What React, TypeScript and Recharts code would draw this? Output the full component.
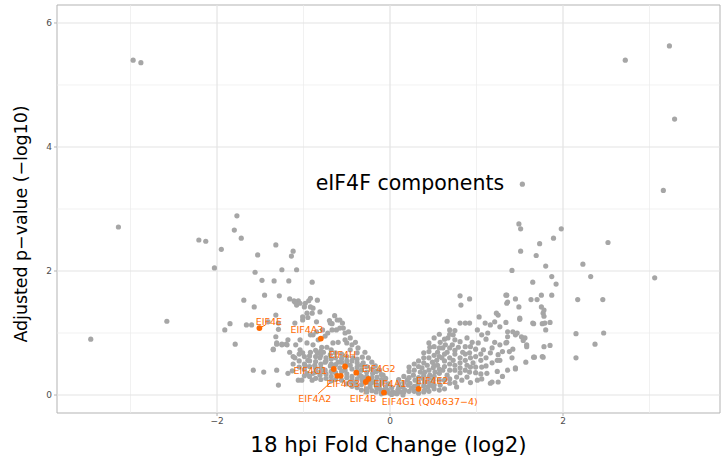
import React from "react";
import {
  ScatterChart,
  Scatter,
  XAxis,
  YAxis,
  ReferenceLine,
  ReferenceArea,
} from "recharts";

// background proteins, grey points: [log2 fold change, -log10 adj p]
const leftSparse: [number, number][] = [
  [-3.46, 0.9], [-3.14, 2.71], [-2.58, 1.19], [-2.97, 5.4], [-2.88, 5.36],
  [-2.21, 2.5], [-2.13, 2.48], [-2.03, 2.05], [-1.95, 2.35], [-1.8, 2.66],
  [-1.77, 2.89], [-1.72, 2.53], [-1.53, 2.26], [-1.32, 2.42], [-1.14, 2.24],
  [-1.12, 2.32], [-1.56, 1.98], [-1.25, 2.02], [-1.08, 2.02], [-1.48, 1.85],
  [-1.34, 1.84], [-1.17, 1.84], [-0.9, 1.82], [-1.69, 1.53], [-1.45, 1.61],
  [-1.28, 1.6], [-1.16, 1.55], [-1.11, 1.52], [-1.06, 1.52], [-1.08, 1.45],
  [-0.94, 1.52], [-0.92, 1.56], [-0.84, 1.53], [-1.57, 1.42], [-0.99, 1.42],
  [-0.89, 1.4], [-0.81, 1.34], [-1.32, 1.29], [-1.01, 1.21], [-1.85, 1.15],
  [-1.66, 1.13], [-1.6, 1.13], [-1.91, 1.05], [-1.41, 1.18], [-1.29, 1.16],
  [-1.29, 1.06], [-1.1, 1.16], [-1.32, 0.94], [-1.79, 0.82], [-1.35, 0.74],
  [-1.31, 0.82], [-1.25, 0.82], [-1.2, 0.82], [-1.18, 0.89], [-1.58, 0.4],
  [-1.46, 0.37], [-1.29, 0.16], [-1.06, 0.24], [-1.13, 0.39], [-0.98, 0.47],
];

const leftBand: [number, number][] = [
  [-0.61, 1.21], [-0.58, 1.21], [-0.67, 1.15], [-0.62, 1.05], [-0.54, 1.08],
  [-0.52, 1.0], [-1.1, 1.5], [-1.04, 1.48], [-0.98, 1.48], [-0.92, 1.42],
  [-0.96, 1.32], [-0.9, 1.32], [-1.01, 1.26], [-0.69, 1.16], [-0.67, 1.05],
  [-0.58, 1.08], [-0.92, 0.97], [-0.89, 0.97], [-1.31, 0.84], [-1.25, 0.81],
  [-1.19, 0.81], [-1.35, 0.73], [-0.96, 0.84], [-0.89, 0.81], [-0.79, 0.77],
  [-0.73, 0.77], [-0.66, 0.84], [-0.6, 0.85], [-0.5, 0.84], [-0.46, 0.73],
  [-1.04, 0.73], [-1.01, 0.68], [-0.92, 0.69], [-0.84, 0.68], [-0.77, 0.69],
  [-0.69, 0.65], [-0.38, 0.68], [-0.32, 0.61], [-0.43, 0.6], [-0.81, 0.6],
  [-0.75, 0.53], [-0.6, 0.53], [-0.46, 0.48], [-0.38, 0.45], [-0.31, 0.52],
  [-0.27, 0.37], [-0.2, 0.35], [-0.15, 0.29], [-1.31, 0.4], [-1.18, 0.35],
  [-0.96, 0.35], [-0.89, 0.35], [-0.81, 0.32], [-1.02, 0.24], [-0.9, 0.24],
  [-0.46, 0.21], [-0.4, 0.19], [-0.23, 0.13], [-0.15, 0.11], [-0.03, 0.08],
  [0.03, 0.05], [0.15, 0.0], [-0.52, 0.89], [-0.44, 0.81], [-0.37, 0.76],
  [-0.29, 0.69], [-0.25, 0.6], [-0.21, 0.53], [-0.17, 0.47], [-0.12, 0.4],
  [-0.08, 0.32], [-0.06, 0.24], [-0.02, 0.18], [-0.12, 0.16], [-0.17, 0.21],
  [-0.29, 0.27], [-0.35, 0.32], [-0.52, 0.4], [-0.58, 0.44], [-0.69, 0.47],
  [-0.75, 0.4], [-0.87, 0.48], [-0.95, 0.56], [-1.1, 0.6], [-1.16, 0.69],
  [-1.09, 0.81], [-1.04, 0.89], [-0.83, 0.89], [-0.75, 0.95], [-0.46, 0.92],
  [-0.4, 0.85], [0.06, 0.03], [0.09, 0.08], [0.0, 0.03], [-0.07, 0.08],
  [-0.12, 0.1], [-0.23, 0.18], [-0.32, 0.24],
];

// the solid part of the left arm
const leftCore: [number, number][] = [
  [-1.12, 0.62], [-1.12, 0.5], [-1.05, 0.66], [-1.05, 0.55], [-1.05, 0.45],
  [-0.99, 0.62], [-0.99, 0.5], [-0.99, 0.41], [-0.99, 0.31], [-0.93, 0.63],
  [-0.93, 0.55], [-0.93, 0.46], [-0.93, 0.3], [-0.86, 0.72], [-0.86, 0.62],
  [-0.86, 0.54], [-0.86, 0.43], [-0.86, 0.37], [-0.86, 0.27], [-0.8, 0.71],
  [-0.8, 0.64], [-0.8, 0.5], [-0.8, 0.44], [-0.8, 0.37], [-0.8, 0.25],
  [-0.74, 0.6], [-0.74, 0.55], [-0.74, 0.34], [-0.74, 0.27], [-0.68, 0.73],
  [-0.68, 0.58], [-0.68, 0.5], [-0.68, 0.38], [-0.68, 0.3], [-0.68, 0.23],
  [-0.63, 0.68], [-0.63, 0.6], [-0.63, 0.49], [-0.63, 0.36], [-0.63, 0.25],
  [-0.56, 0.66], [-0.56, 0.59], [-0.56, 0.53], [-0.56, 0.38], [-0.56, 0.24],
  [-0.5, 0.62], [-0.5, 0.55], [-0.5, 0.5], [-0.5, 0.34], [-0.5, 0.28],
  [-0.5, 0.18], [-0.44, 0.55], [-0.44, 0.42], [-0.44, 0.3], [-0.44, 0.24],
  [-0.44, 0.14], [-0.38, 0.58], [-0.38, 0.52], [-0.38, 0.38], [-0.38, 0.26],
  [-0.38, 0.12], [-0.33, 0.48], [-0.33, 0.4], [-0.33, 0.3], [-0.33, 0.17],
  [-0.33, 0.08], [-0.27, 0.46], [-0.27, 0.3], [-0.27, 0.22], [-0.27, 0.1],
  [-0.27, 0.05], [-0.21, 0.42], [-0.21, 0.28], [-0.21, 0.2], [-0.21, 0.07],
  [-0.16, 0.38], [-0.16, 0.23], [-0.16, 0.15], [-0.16, 0.05], [-0.1, 0.33],
  [-0.1, 0.25], [-0.1, 0.19], [-0.1, 0.05], [-0.1, 0.02], [-0.05, 0.27],
  [-0.05, 0.13], [-0.05, 0.04], [0.02, 0.12], [0.02, 0.01], [-0.95, 1.25],
  [-0.85, 1.18], [-0.7, 1.2], [-0.64, 1.28], [-0.55, 1.16], [-0.78, 1.05],
  [-0.72, 1.0], [-0.85, 1.02], [-0.48, 1.02],
];

const rightBand: [number, number][] = [
  [0.81, 1.6], [0.82, 1.45], [0.92, 1.55], [1.35, 1.61], [1.35, 1.48],
  [1.23, 1.32], [1.25, 1.29], [0.66, 1.19], [1.03, 1.26], [0.81, 1.16],
  [0.87, 1.16], [0.92, 1.16], [1.1, 1.16], [1.16, 1.13], [1.27, 1.1],
  [1.36, 1.02], [1.45, 0.97], [0.69, 1.05], [0.73, 0.97], [0.67, 0.92],
  [1.01, 1.05], [1.06, 0.97], [1.13, 1.0], [0.89, 0.92], [0.95, 0.85],
  [1.02, 0.84], [1.21, 0.85], [1.27, 0.81], [1.35, 0.85], [0.58, 0.85],
  [0.46, 0.77], [0.61, 0.76], [0.79, 0.77], [0.84, 0.69], [0.92, 0.68],
  [1.08, 0.73], [1.16, 0.68], [1.25, 0.65], [1.27, 0.56], [1.41, 0.6],
  [1.45, 0.44], [0.73, 0.56], [0.81, 0.52], [0.89, 0.48], [0.96, 0.52],
  [1.06, 0.45], [1.12, 0.35], [0.92, 0.37], [0.54, 0.56], [0.43, 0.48],
  [0.5, 0.44], [0.61, 0.4], [0.66, 0.32], [0.77, 0.29], [0.89, 0.29],
  [1.01, 0.24], [1.06, 0.26], [1.18, 0.21], [1.25, 0.21], [0.35, 0.37],
  [0.27, 0.32], [0.38, 0.27], [0.5, 0.24], [0.2, 0.24], [0.23, 0.19],
  [0.44, 0.13], [0.58, 0.16], [0.15, 0.13], [0.17, 0.08], [1.45, 1.55],
  [1.77, 1.32], [1.5, 1.24], [1.65, 1.16], [1.79, 1.16], [1.21, 1.18],
  [1.47, 1.0], [1.58, 0.81], [1.56, 0.92], [1.66, 0.61], [1.77, 0.61],
  [1.57, 0.53], [1.45, 0.42], [1.36, 0.4], [1.16, 0.19], [0.77, 0.13],
  [0.25, 0.11], [0.32, 0.16], [0.4, 0.21], [0.46, 0.32], [0.52, 0.37],
  [0.55, 0.48], [0.6, 0.6], [0.66, 0.69], [0.72, 0.81], [0.75, 0.89],
  [0.37, 0.44], [0.29, 0.24], [0.21, 0.16], [0.4, 0.37], [0.49, 0.53],
  [0.55, 0.69], [0.64, 0.81], [0.12, 0.05], [0.08, 0.02], [0.32, 0.08],
  [0.4, 0.08], [0.49, 0.15], [0.69, 0.19], [0.83, 0.24],
];

// the solid part of the right arm
const rightCore: [number, number][] = [
  [0.1, 0.12], [0.1, 0.18], [0.1, 0.25], [0.16, 0.2], [0.16, 0.3],
  [0.16, 0.05], [0.22, 0.06], [0.22, 0.28], [0.22, 0.38], [0.22, 0.45],
  [0.28, 0.06], [0.28, 0.14], [0.28, 0.4], [0.28, 0.5], [0.33, 0.2],
  [0.33, 0.28], [0.33, 0.46], [0.33, 0.55], [0.33, 0.03], [0.39, 0.05],
  [0.39, 0.15], [0.39, 0.32], [0.39, 0.52], [0.39, 0.6], [0.39, 0.68],
  [0.45, 0.06], [0.45, 0.2], [0.45, 0.28], [0.45, 0.4], [0.45, 0.6],
  [0.45, 0.7], [0.45, 0.84], [0.51, 0.1], [0.51, 0.16], [0.51, 0.3],
  [0.51, 0.48], [0.51, 0.64], [0.51, 0.78], [0.51, 0.92], [0.57, 0.08],
  [0.57, 0.24], [0.57, 0.35], [0.57, 0.42], [0.57, 0.62], [0.57, 0.76],
  [0.57, 0.98], [0.63, 0.1], [0.63, 0.24], [0.63, 0.46], [0.63, 0.55],
  [0.63, 0.66], [0.63, 0.9], [0.69, 0.26], [0.69, 0.4], [0.69, 0.5],
  [0.69, 0.6], [0.69, 0.76], [0.69, 0.98], [0.75, 0.2], [0.75, 0.4],
  [0.75, 0.48], [0.75, 0.66], [0.75, 0.72], [0.75, 1.04], [0.81, 0.36],
  [0.81, 0.44], [0.81, 0.6], [0.81, 0.86], [0.87, 0.4], [0.87, 0.56],
  [0.87, 0.66], [0.87, 0.78], [0.93, 0.2], [0.93, 0.45], [0.93, 0.6],
  [0.93, 0.78], [0.99, 0.36], [0.99, 0.45], [0.99, 0.62], [0.99, 0.74],
  [1.05, 0.34], [1.05, 0.56], [1.05, 0.66], [1.11, 0.47], [1.11, 0.6],
  [1.11, 0.9], [1.18, 0.52], [1.18, 0.76], [1.24, 0.38], [1.24, 0.56],
  [1.3, 0.3], [1.3, 0.7], [1.38, 0.7],
];

const rightSparse: [number, number][] = [
  [3.23, 5.63], [2.72, 5.4], [3.29, 4.45], [1.53, 3.4], [3.16, 3.3],
  [1.49, 2.76], [1.51, 2.68], [1.98, 2.68], [1.89, 2.53], [1.73, 2.44],
  [2.52, 2.46], [1.51, 2.32], [1.69, 2.25], [1.8, 2.08], [2.23, 2.11],
  [1.41, 2.01], [2.32, 1.91], [3.06, 1.89], [1.87, 1.91], [1.92, 1.79],
  [1.65, 1.82], [1.75, 1.61], [1.87, 1.61], [1.7, 1.54], [1.63, 1.54],
  [2.17, 1.54], [2.46, 1.54], [1.34, 1.61], [1.36, 1.5], [1.49, 1.42],
  [1.75, 1.42], [1.78, 1.37], [1.78, 1.27], [1.5, 1.22], [1.34, 1.17],
  [1.66, 1.15], [1.76, 1.15], [1.85, 1.17], [1.8, 1.05], [2.15, 0.99],
  [2.47, 1.0], [1.42, 1.02], [1.52, 0.94], [1.54, 0.88], [2.37, 0.82],
  [1.85, 0.8], [1.78, 0.78], [1.58, 0.78], [1.42, 0.74], [2.15, 0.6],
  [1.76, 0.62], [1.67, 0.61], [1.34, 0.84], [1.36, 0.94],
];

// eIF4F complex members, highlighted in orange
const eifNames = [
  "EIF4E", "EIF4A3", "EIF4H", "EIF4G1", "EIF4G2", "EIF4G3",
  "EIF4A2", "EIF4B", "EIF4A1", "EIF4G1 (Q04637\u22124)", "EIF4E2",
];
const eifFc = [-1.51, -0.8, -0.52, -0.65, -0.39, -0.57, -0.61, -0.28, -0.25, -0.07, 0.33];
const eifP = [1.08, 0.91, 0.46, 0.42, 0.36, 0.31, 0.31, 0.21, 0.26, 0.04, 0.1];
// where the repelled text sits
const labelFc = [-1.4, -0.96, -0.55, -0.92, -0.13, -0.54, -0.87, -0.31, 0.0, 0.46, 0.49];
const labelP = [1.19, 1.05, 0.66, 0.4, 0.42, 0.18, -0.06, -0.06, 0.18, -0.1, 0.24];

const leaderLines = [
  [[-1.51, 1.08], [-1.44, 1.13]],
  [[-0.55, 0.56], [-0.52, 0.46]],
  [[-0.83, 0.02], [-0.61, 0.3]],
  [[-0.3, 0.01], [-0.285, 0.21]],
  [[0.33, 0.1], [0.385, 0.145]],
];

const xMajor = [-2, 0, 2];
const xMinor = [-3, -1, 1, 3];
const yMajor = [0, 2, 4, 6];
const yMinor = [1, 3, 5];

const X_DOMAIN: [number, number] = [-3.85, 3.815];
const Y_DOMAIN: [number, number] = [-0.29, 6.29];

const GREY = "#a6a6a6";
const ORANGE = "#ff6a00";

const toPts = (arr: [number, number][]) => arr.map(([x, y]) => ({ x, y }));
const greyData = [
  ...toPts(leftSparse), ...toPts(leftBand), ...toPts(leftCore),
  ...toPts(rightBand), ...toPts(rightCore), ...toPts(rightSparse),
];
const eifData = eifNames.map((n, i) => ({ x: eifFc[i], y: eifP[i], name: n }));
const labelData = eifNames.map((n, i) => ({ x: labelFc[i], y: labelP[i], name: n }));
const titleData = [{ x: 0.23, y: 3.42, name: "eIF4F components" }];

const greyDot = (p: any) => <circle cx={p.cx} cy={p.cy} r={2.6} fill={GREY} />;
const orangeDot = (p: any) => <circle cx={p.cx} cy={p.cy} r={2.9} fill={ORANGE} />;
const labelText = (p: any) => (
  <text x={p.cx} y={p.cy} textAnchor="middle" dominantBaseline="central"
    fontSize={9.5} fill={ORANGE} fontFamily="DejaVu Sans">{p.payload.name}</text>
);
const titleText = (p: any) => (
  <text x={p.cx} y={p.cy} textAnchor="middle" dominantBaseline="central"
    fontSize={20.5} fill="#000" fontFamily="DejaVu Sans">{p.payload.name}</text>
);

const fmt = (v: number) => String(v).replace("-", "\u2212");
const tickStyle = { fontSize: 9, fill: "#4d4d4d", fontFamily: "DejaVu Sans" };

export default function App() {
  return (
    <div style={{ position: "absolute", left: 0, top: 0, width: 721, height: 465, background: "#fff" }}>
      <ScatterChart width={721} height={465} margin={{ top: 5, right: 1, bottom: 22, left: 0 }}>
        <XAxis type="number" dataKey="x" domain={X_DOMAIN} ticks={xMajor} allowDataOverflow
          tickFormatter={fmt} tick={tickStyle} axisLine={false}
          tickLine={{ stroke: "#b3b3b3" }} tickSize={3} height={30} />
        <YAxis type="number" dataKey="y" domain={Y_DOMAIN} ticks={yMajor} allowDataOverflow
          tickFormatter={fmt} tick={tickStyle} axisLine={false}
          tickLine={{ stroke: "#b3b3b3" }} tickSize={3} width={57} />
        {xMinor.map((v) => <ReferenceLine key={"xm" + v} x={v} stroke="#ebebeb" strokeWidth={0.7} />)}
        {yMinor.map((v) => <ReferenceLine key={"ym" + v} y={v} stroke="#ebebeb" strokeWidth={0.7} />)}
        {xMajor.map((v) => <ReferenceLine key={"xM" + v} x={v} stroke="#e3e3e3" strokeWidth={1.2} />)}
        {yMajor.map((v) => <ReferenceLine key={"yM" + v} y={v} stroke="#e3e3e3" strokeWidth={1.2} />)}
        <ReferenceArea x1={X_DOMAIN[0]} x2={X_DOMAIN[1]} y1={Y_DOMAIN[0]} y2={Y_DOMAIN[1]}
          fill="none" stroke="#b3b3b3" strokeWidth={1} />
        <Scatter data={greyData} shape={greyDot} isAnimationActive={false} />
        {leaderLines.map((s, i) => (
          <ReferenceLine key={"seg" + i} segment={[{ x: s[0][0], y: s[0][1] }, { x: s[1][0], y: s[1][1] }]}
            stroke={ORANGE} strokeWidth={1} />
        ))}
        <Scatter data={eifData} shape={orangeDot} isAnimationActive={false} />
        <Scatter data={labelData} shape={labelText} isAnimationActive={false} />
        <Scatter data={titleData} shape={titleText} isAnimationActive={false} />
      </ScatterChart>
      <div style={{ position: "absolute", left: 57, width: 663, top: 432, textAlign: "center",
        fontFamily: "DejaVu Sans", fontSize: 21.4, color: "#000" }}>
        18 hpi Fold Change (log2)
      </div>
      <div style={{ position: "absolute", left: 21, top: 224, transform: "translate(-50%, -50%) rotate(-90deg)",
        whiteSpace: "nowrap", fontFamily: "DejaVu Sans", fontSize: 17.4, color: "#000" }}>
        Adjusted p{"\u2212"}value ({"\u2212"}log10)
      </div>
    </div>
  );
}
